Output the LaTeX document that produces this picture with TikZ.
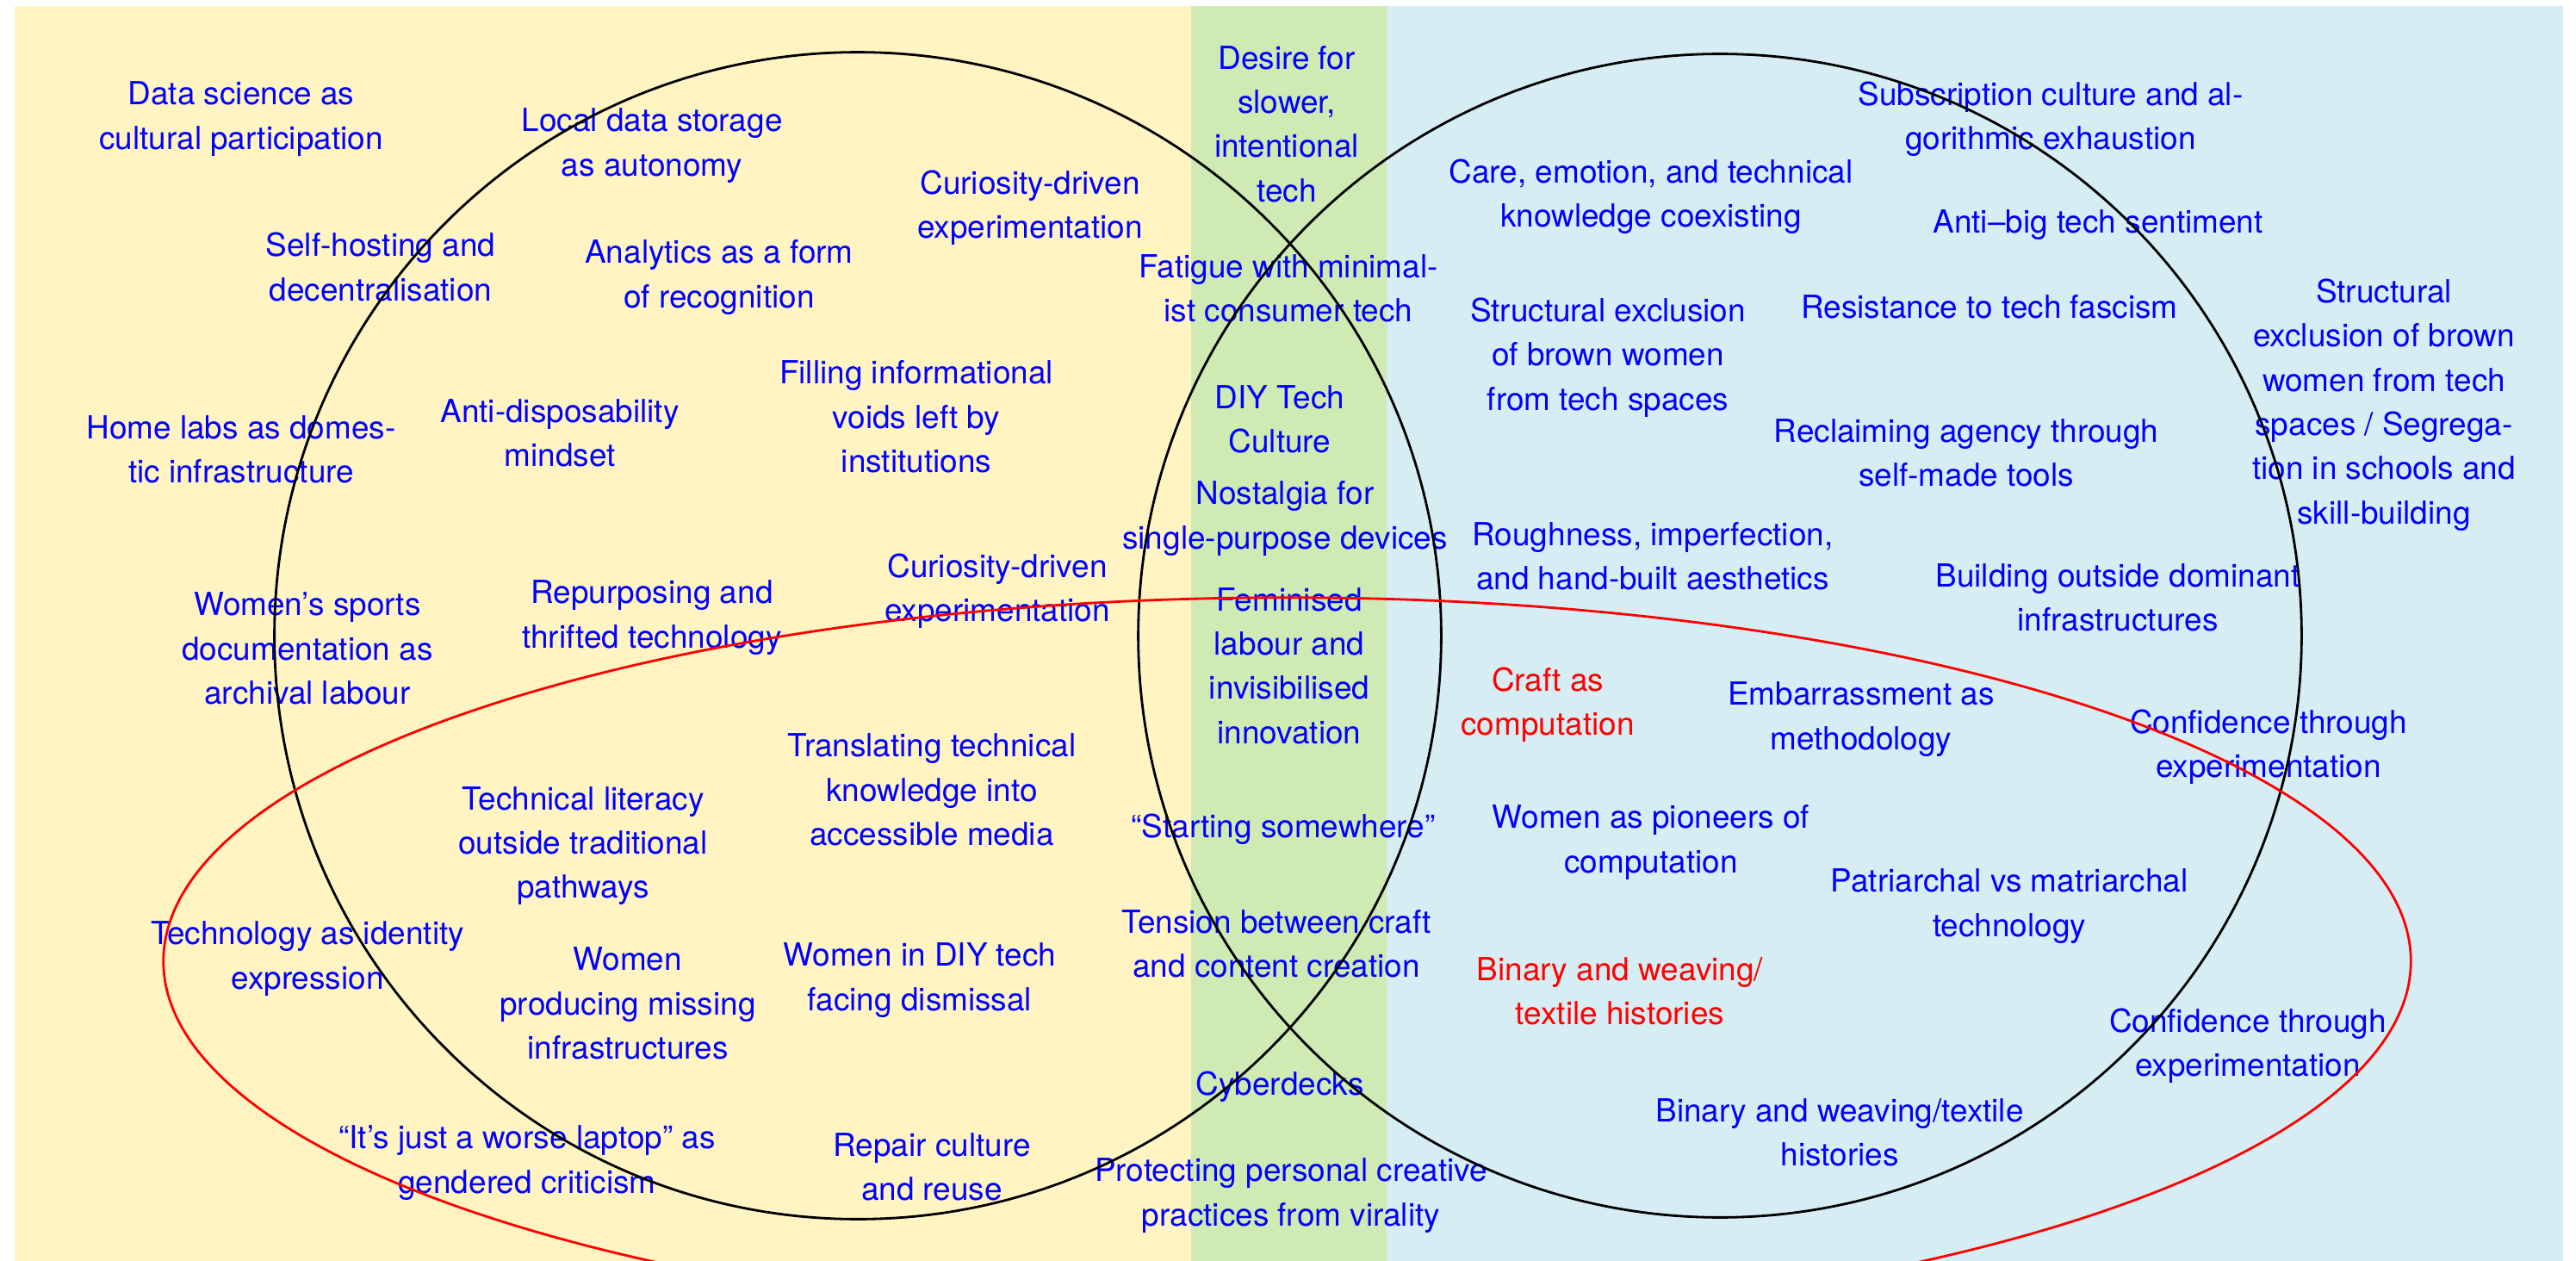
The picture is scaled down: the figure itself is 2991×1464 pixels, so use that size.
\documentclass[tikz,border=0pt]{standalone}
\usepackage{fontspec}
\setmainfont{TeX Gyre Heros}
\definecolor{bgyellow}{RGB}{255,244,194}
\definecolor{bggreen}{RGB}{207,234,178}
\definecolor{bgblue}{RGB}{215,237,244}
\tikzset{
  lbl/.style={align=center, text=blue, font=\fontsize{10.5}{14.6}\selectfont, inner sep=0pt, yshift=-0.03cm},
  rlbl/.style={lbl, text=red},
  ring/.style={draw=black, line width=0.8pt},
  redring/.style={draw=red, line width=0.8pt}
}
\begin{document}
\begin{tikzpicture}[x=0.01cm, y=-0.01cm]
\useasboundingbox (0,0) rectangle (2991,1464);
\fill[bgyellow] (17,7) rectangle (1383,1464);
\fill[bggreen] (1383,7) rectangle (1610,1464);
\fill[bgblue] (1610,7) rectangle (2976,1464);

% left region
\node[lbl] (t1) at (280,135) {Data science as\\cultural participation};
\node[lbl] (t2) at (757,166) {Local data storage\\as autonomy};
\node[lbl] (t3) at (442,307) {Self-hosting and\\decentralisation};
\node[lbl] (t4) at (835,319) {Analytics as a form\\of recognition};
\node[lbl] (t5) at (1196,238) {Curiosity-driven\\experimentation};
\node[lbl] (t6) at (1064,481) {Filling informational\\voids left by\\institutions};
\node[lbl] (t7) at (280,519) {Home labs as domes-\\tic infrastructure};
\node[lbl] (t8) at (650,500) {Anti-disposability\\mindset};
\node[lbl] (t9) at (357,750) {Women’s sports\\documentation as\\archival labour};
\node[lbl] (t10) at (757,714) {Repurposing and\\thrifted technology};
\node[lbl] (t11) at (1158,683) {Curiosity-driven\\experimentation};
\node[lbl] (t12) at (1082,914) {Translating technical\\knowledge into\\accessible media};
\node[lbl] (t13) at (677,979) {Technical literacy\\outside traditional\\pathways};
\node[lbl] (t14) at (357,1110) {Technology as identity\\expression};
\node[lbl] (t15) at (729,1162) {Women\\producing missing\\infrastructures};
\node[lbl] (t16) at (1068,1135) {Women in DIY tech\\facing dismissal};
\node[lbl] (t17) at (612,1347) {“It’s just a worse laptop” as\\gendered criticism};
\node[lbl] (t18) at (1082,1352) {Repair culture\\and reuse};

% middle column
\node[lbl] (m1) at (1494,141) {Desire for\\slower,\\intentional\\tech};
\node[lbl] (m2) at (1496,332) {Fatigue with minimal-\\ist consumer tech};
\node[lbl] (m3) at (1486,484) {DIY Tech\\Culture};
\node[lbl] (m4) at (1492,599) {Nostalgia for\\single-purpose devices};
\node[lbl] (m5) at (1497,770) {Feminised\\labour and\\invisibilised\\innovation};
\node[lbl] (m6) at (1490,960) {“Starting somewhere”};
\node[lbl] (m7) at (1482,1093) {Tension between craft\\and content creation};
\node[lbl] (m8) at (1486,1259) {Cyberdecks};
\node[lbl] (m9) at (1499,1385) {Protecting personal creative\\practices from virality};

% right region
\node[lbl] (r1) at (2381,135) {Subscription culture and al-\\gorithmic exhaustion};
\node[lbl] (r2) at (1917,225) {Care, emotion, and technical\\knowledge coexisting};
\node[lbl] (r3) at (2436,258) {Anti–big tech sentiment};
\node[lbl] (r4) at (1867,412) {Structural exclusion\\of brown women\\from tech spaces};
\node[lbl] (r5) at (2310,353) {Resistance to tech fascism};
\node[lbl] (r6) at (2768,467) {Structural\\exclusion of brown\\women from tech\\spaces / Segrega-\\tion in schools and\\skill-building};
\node[lbl] (r7) at (2283,523) {Reclaiming agency through\\self-made tools};
\node[lbl] (r8) at (1919,643) {Roughness, imperfection,\\and hand-built aesthetics};
\node[lbl] (r9) at (2459,691) {Building outside dominant\\infrastructures};
\node[rlbl] (r10) at (1797,815) {Craft as\\computation};
\node[lbl] (r11) at (2161,832) {Embarrassment as\\methodology};
\node[lbl] (r12) at (2634,864) {Confidence through\\experimentation};
\node[lbl] (r13) at (1917,975) {Women as pioneers of\\computation};
\node[lbl] (r14) at (2333,1049) {Patriarchal vs matriarchal\\technology};
\node[rlbl] (r15) at (1881,1148) {Binary and weaving/\\textile histories};
\node[lbl] (r16) at (2610,1211) {Confidence through\\experimentation};
\node[lbl] (r17) at (2136,1312) {Binary and weaving/textile\\histories};

% circles
\begin{scope}
\clip (0,0) rectangle (2991,1464);
\coordinate (cl) at (996,738);
\coordinate (cr) at (1997,738);
\coordinate (ce) at (1494.5,1116);
\draw[ring] (cl) circle[radius=6.77cm];
\draw[ring] (cr) circle[radius=6.75cm];
\draw[redring] (ce) ellipse[x radius=13.04cm, y radius=4.22cm];
\end{scope}
\end{tikzpicture}
\end{document}
